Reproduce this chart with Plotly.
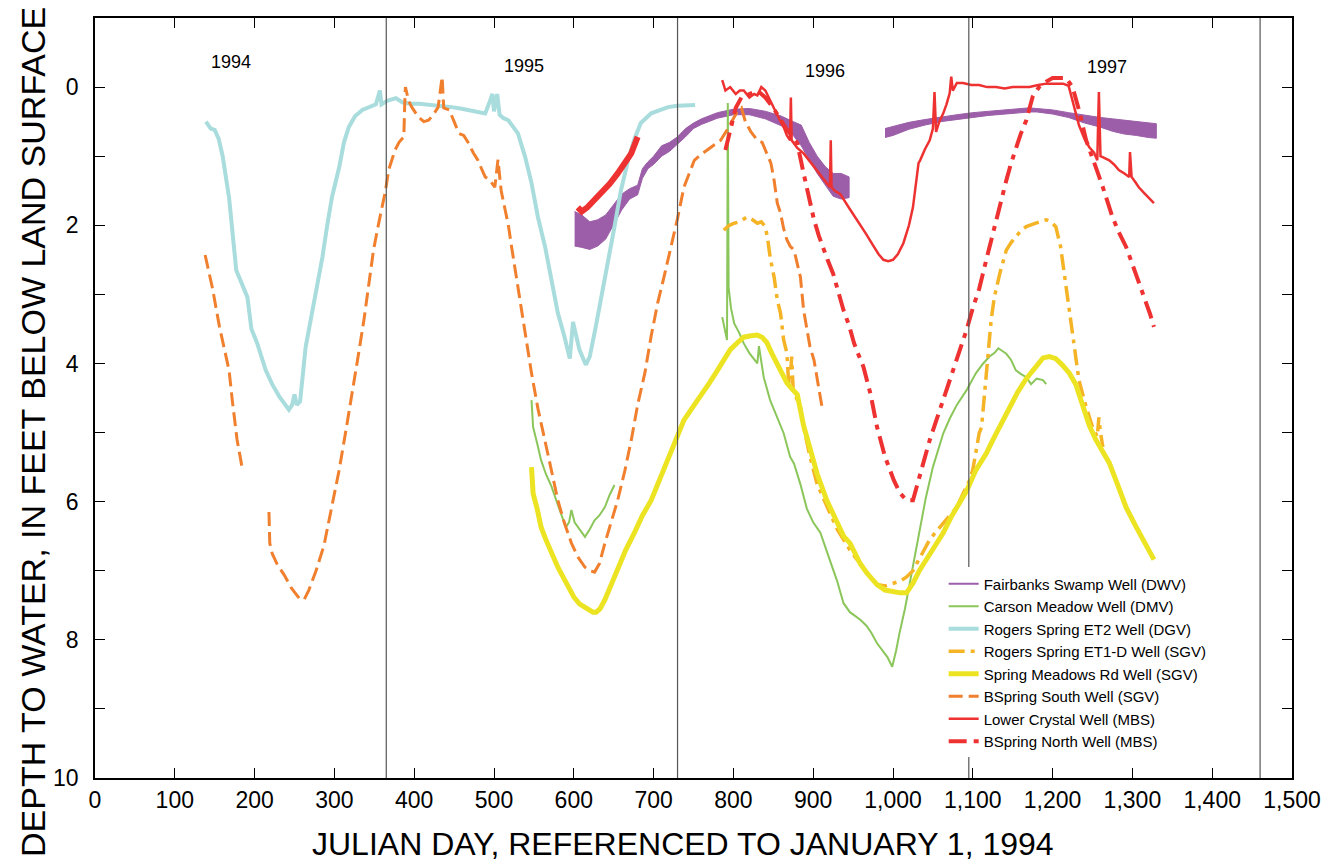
import plotly.graph_objects as go

# ---------------------------------------------------------------------------
# Depth to water (feet below land surface) versus Julian day, referenced to
# January 1, 1994.  None separates gaps in a record.
# ---------------------------------------------------------------------------

# Fairbanks Swamp Well (DWV): strong daily fluctuation, kept as an upper/lower envelope
fairbanks_days_1 = [601, 610, 620, 630, 640, 650, 660, 670, 680, 686, 693, 700, 710, 720, 730,
                    740, 750, 760, 780, 800, 820, 840, 860, 875, 885, 895, 905, 915, 925, 935, 945]
fairbanks_top_1 = [1.80, 1.85, 1.95, 1.92, 1.85, 1.70, 1.55, 1.47, 1.42, 1.18, 1.08, 1.00, 0.85, 0.80, 0.72,
                   0.60, 0.52, 0.46, 0.37, 0.32, 0.31, 0.35, 0.42, 0.50, 0.55, 0.80, 1.00, 1.15, 1.25, 1.25, 1.30]
fairbanks_bot_1 = [2.30, 2.32, 2.35, 2.30, 2.20, 2.00, 1.78, 1.62, 1.56, 1.32, 1.18, 1.12, 1.00, 0.93, 0.83,
                   0.72, 0.60, 0.54, 0.45, 0.40, 0.40, 0.46, 0.56, 0.70, 0.85, 1.05, 1.25, 1.42, 1.58, 1.62, 1.60]
fairbanks_days_2 = [990, 1000, 1020, 1040, 1060, 1080, 1100, 1120, 1140, 1160, 1171, 1180, 1200, 1220,
                    1240, 1260, 1275, 1290, 1305, 1320, 1330]
fairbanks_top_2 = [0.60, 0.57, 0.51, 0.47, 0.43, 0.40, 0.37, 0.35, 0.33, 0.31, 0.30, 0.31, 0.33, 0.37,
                   0.41, 0.44, 0.46, 0.48, 0.50, 0.52, 0.53]
fairbanks_bot_2 = [0.73, 0.70, 0.61, 0.55, 0.50, 0.47, 0.44, 0.41, 0.39, 0.37, 0.36, 0.36, 0.39, 0.44,
                   0.52, 0.58, 0.64, 0.68, 0.70, 0.73, 0.74]

# Carson Meadow Well (DMV)
carson_days = [547, 549, 554, 559, 565, 572, 578, 584, 590, 594, 597, 601, 605, 610, 614, 620, 626, 632,
               639, 645, 651, None,
               786, 789, 792, 793, 794, 797, 801, 807, 813, 820, 826, 830, 832, 838, 846, 855, 863, 871,
               876, 884, 892, 900, 909, 915, 921, 930, 938, 946, 952, 959, 967, 973, 980, 987, 993, 999,
               1004, 1008, 1015, 1021, 1027, 1033, 1041, 1050, 1057, 1063, 1071, 1080, 1092, 1104, 1113,
               1121, 1127, 1132, 1137, 1142, 1148, 1154, 1160, 1167, 1173, 1180, 1188, 1192]
carson_depth = [4.53, 4.92, 5.15, 5.40, 5.60, 5.78, 5.98, 6.17, 6.37, 6.30, 6.12, 6.30, 6.37, 6.45, 6.51,
                6.40, 6.27, 6.20, 6.08, 5.90, 5.76, None,
                3.33, 3.50, 3.66, 0.23, 2.90, 3.20, 3.42, 3.55, 3.71, 3.85, 3.95, 4.00, 3.75, 4.20, 4.53,
                4.78, 5.01, 5.35, 5.45, 5.75, 6.10, 6.30, 6.45, 6.65, 6.84, 7.15, 7.47, 7.60, 7.65, 7.71,
                7.80, 7.90, 8.05, 8.15, 8.25, 8.39, 8.15, 7.91, 7.55, 7.18, 6.80, 6.45, 5.95, 5.50, 5.25,
                5.01, 4.80, 4.60, 4.39, 4.14, 4.00, 3.90, 3.85, 3.78, 3.82, 3.86, 3.95, 4.10, 4.15, 4.20,
                4.30, 4.22, 4.24, 4.30]

# Rogers Spring ET2 Well (DGV)
et2_days = [139, 145, 150, 155, 160, 168, 177, 184, 191, 196, 203, 214, 222, 231, 238, 243, 247, 250,
            253, 257, 264, 272, 278, 285, 291, 297, 306, 312, 318, 326, 335, 345, 352, 357, 359, 366,
            377, 385, 395, 406, 416, 427, 437, 447, 458, 468, 478, 489, 495, 498, 500, 504, 507, 512,
            518, 524, 530, 539, 547, 555, 564, 572, 580, 588, 595, 599, 607, 615, 620, 627, 634, 642,
            651, 659, 668, 676, 684, 697, 709, 718, 730, 740, 752]
et2_depth = [0.50, 0.60, 0.62, 0.75, 1.00, 1.60, 2.65, 2.85, 3.04, 3.50, 3.70, 4.10, 4.30, 4.48, 4.60,
             4.67, 4.60, 4.45, 4.60, 4.55, 3.76, 3.27, 2.90, 2.46, 2.00, 1.59, 1.16, 0.80, 0.58, 0.42,
             0.33, 0.28, 0.25, 0.05, 0.25, 0.20, 0.16, 0.22, 0.24, 0.24, 0.25, 0.26, 0.27, 0.29, 0.31,
             0.33, 0.36, 0.38, 0.20, 0.10, 0.35, 0.10, 0.40, 0.45, 0.48, 0.58, 0.67, 1.01, 1.39, 1.88,
             2.31, 2.79, 3.27, 3.60, 3.93, 3.40, 3.80, 4.02, 3.90, 3.50, 3.08, 2.60, 2.02, 1.50, 1.06,
             0.75, 0.52, 0.38, 0.33, 0.29, 0.27, 0.27, 0.26]

# Rogers Spring ET1-D Well (SGV)
et1d_days = [788, 795, 801, 808, 817, 824, 830, 835, 840, 843, 846, 851, 855, 859, 863, 867, 869, 871,
             873, 875, 879, 884, 888, 896, 905, 913, 921, 930, 938, 946, 955, 963, 972, 980, 990, 1001,
             1009, 1017, 1025, 1030, 1038, 1046, 1055, 1063, 1071, 1080, 1088, 1096, 1100, 1104, 1108,
             1111, 1115, 1119, 1123, 1127, 1134, 1142, 1148, 1154, 1160, 1167, 1173, 1179, 1186, 1192,
             1198, 1204, 1210, 1214, 1218, 1221, 1227, 1233, 1242, 1250, 1256, 1258, 1260, 1263]
et1d_depth = [2.07, 2.00, 1.97, 1.95, 1.88, 1.92, 1.97, 1.95, 2.02, 2.20, 2.46, 2.75, 3.08, 3.27, 3.66,
              3.85, 4.24, 4.30, 3.90, 4.40, 4.50, 4.63, 4.92, 5.35, 5.75, 5.95, 6.17, 6.40, 6.55, 6.70,
              6.84, 6.95, 7.10, 7.20, 7.22, 7.18, 7.15, 7.09, 7.00, 6.89, 6.72, 6.55, 6.42, 6.31, 6.20,
              6.08, 5.88, 5.69, 5.54, 5.30, 5.01, 4.92, 4.43, 3.95, 3.37, 3.04, 2.69, 2.36, 2.25, 2.17,
              2.08, 2.02, 1.99, 1.97, 1.94, 1.92, 1.95, 2.02, 2.31, 2.65, 2.90, 3.18, 3.76, 4.24, 4.63,
              4.92, 5.06, 4.78, 5.00, 5.21]

# Spring Meadows Rd Well (SGV)
meadows_days = [547, 549, 554, 559, 565, 572, 580, 587, 593, 600, 607, 614, 620, 624, 628, 633, 639, 647,
                655, 665, 676, 686, 697, 707, 718, 728, 738, 748, 759, 770, 780, 788, 796, 805, 813, 822,
                830, 836, 842, 848, 855, 861, 867, 872, 876, 880, 888, 896, 905, 917, 926, 938, 946, 959,
                967, 980, 990, 1001, 1009, 1017, 1025, 1033, 1042, 1052, 1063, 1073, 1083, 1092, 1104,
                1117, 1125, 1134, 1146, 1156, 1167, 1178, 1188, 1196, 1204, 1212, 1221, 1229, 1237, 1246,
                1254, 1263, 1271, 1283, 1292, 1304, 1313, 1320, 1327]
meadows_depth = [5.50, 5.88, 6.10, 6.37, 6.55, 6.74, 6.95, 7.10, 7.24, 7.38, 7.48, 7.53, 7.58, 7.60, 7.60,
                 7.55, 7.42, 7.20, 6.95, 6.70, 6.45, 6.20, 5.98, 5.70, 5.40, 5.11, 4.82, 4.65, 4.48, 4.28,
                 4.10, 3.95, 3.80, 3.70, 3.62, 3.60, 3.59, 3.62, 3.70, 3.85, 4.02, 4.15, 4.28, 4.35, 4.39,
                 4.45, 4.90, 5.25, 5.60, 5.98, 6.22, 6.50, 6.60, 6.90, 7.03, 7.20, 7.28, 7.31, 7.32, 7.32,
                 7.18, 7.00, 6.84, 6.65, 6.45, 6.22, 6.02, 5.85, 5.54, 5.30, 5.11, 4.90, 4.63, 4.42, 4.22,
                 4.05, 3.92, 3.90, 3.93, 4.02, 4.14, 4.30, 4.60, 4.90, 5.10, 5.30, 5.44, 5.80, 6.08, 6.35,
                 6.55, 6.70, 6.84]

# BSpring South Well (SGV)
bsouth_days = [138, 147, 156, 164, 168, 172, 178, 185, None,
               218, 219, 222, 228, 237, 246, 256, 262, 268, 277, 287, 296, 306, 314, 321, 329, 337, 343,
               349, 355, 360, 364, 368, 372, 376, 381, 387, 388, 389, 393, 397, 405, 412, 418, 424, 430,
               433, 435, 437, 444, 450, 456, 462, 468, 474, 480, 485, 489, 495, 501, 505, 509, 514, 518,
               522, 526, 530, 537, 547, 555, 564, 572, 580, 588, 597, 605, 614, 620, 626, 632, 639, 647,
               655, 664, 672, 680, 689, 697, 705, 713, 721, 730, 738, 745, 751, 759, 767, 775, 784, 792,
               798, 805, 810, 815, 822, 830, 836, 842, 847, 851, 855, 859, 863, 867, 871, 876, 880, 884,
               888, 896, 901, 906, 911]
bsouth_depth = [2.43, 2.90, 3.47, 3.90, 4.10, 4.53, 5.10, 5.55, None,
                6.15, 6.60, 6.75, 6.90, 7.06, 7.25, 7.40, 7.42, 7.28, 7.00, 6.63, 6.10, 5.54, 5.00, 4.53,
                3.95, 3.37, 2.85, 2.36, 2.00, 1.74, 1.50, 1.20, 1.05, 0.91, 0.80, 0.72, 0.30, 0.00, 0.20,
                0.29, 0.43, 0.50, 0.48, 0.40, 0.29, 0.00, -0.15, 0.30, 0.33, 0.50, 0.67, 0.70, 0.81, 0.95,
                1.06, 1.20, 1.30, 1.35, 1.45, 1.05, 1.50, 1.78, 2.00, 2.31, 2.60, 2.89, 3.37, 4.14, 4.65,
                5.15, 5.55, 5.98, 6.30, 6.60, 6.80, 6.95, 7.00, 7.02, 6.90, 6.60, 6.30, 5.98, 5.55, 5.11,
                4.60, 4.14, 3.60, 3.13, 2.75, 2.35, 1.90, 1.45, 1.25, 1.06, 0.98, 0.91, 0.85, 0.77, 0.62,
                0.50, 0.35, 0.30, 0.50, 0.65, 0.77, 0.80, 0.96, 1.10, 1.35, 1.68, 1.82, 2.05, 2.21, 2.30,
                2.36, 2.55, 2.75, 3.23, 3.76, 3.95, 4.30, 4.63]

# Lower Crystal Well (MBS); the 1995 record fluctuates strongly and is drawn heavier
crystal_days_1 = [605, 610, 617, 625, 634, 645, 655, 664, 672, 680]
crystal_depth_1 = [1.74, 1.80, 1.74, 1.65, 1.53, 1.40, 1.25, 1.10, 0.96, 0.72]
crystal_days_2 = [786, 790, 796, 803, 808, 813, 820, 826, 830, 835, 840, 846, 851, 857, 863, 867, 871, 872,
                  873, 880, 888, 896, 905, 913, 921, 922, 923, 927, 934, 945, 955, 966, 976, 982, 988, 994,
                  1000, 1006, 1013, 1020, 1025, 1030, 1032, 1034, 1040, 1046, 1050, 1052, 1054, 1058, 1063,
                  1067, 1071, 1073, 1075, 1080, 1088, 1098, 1108, 1118, 1129, 1140, 1150, 1160, 1171, 1182,
                  1192, 1202, 1213, 1220, 1225, 1229, 1233, 1240, 1246, 1252, 1256, 1258, 1260, 1264, 1271,
                  1277, 1283, 1290, 1296, 1297, 1299, 1304, 1308, 1316, 1327]
crystal_depth_2 = [-0.10, 0.05, 0.00, 0.10, 0.05, 0.05, 0.15, 0.10, 0.12, 0.00, 0.05, 0.20, 0.30, 0.45,
                   0.58, 0.70, 0.77, 0.15, 0.77, 0.88, 0.96, 1.08, 1.20, 1.32, 1.45, 0.77, 1.45, 1.50, 1.55,
                   1.75, 1.92, 2.12, 2.31, 2.42, 2.50, 2.52, 2.50, 2.42, 2.26, 2.00, 1.74, 1.30, 1.10, 1.06,
                   0.90, 0.77, 0.60, 0.07, 0.65, 0.50, 0.38, 0.25, 0.09, -0.15, 0.05, -0.06, -0.06, -0.03,
                   -0.03, 0.00, 0.00, 0.02, 0.00, 0.00, 0.00, -0.03, -0.05, -0.05, -0.05, -0.02, 0.20, 0.40,
                   0.55, 0.75, 0.87, 0.95, 1.06, 0.07, 1.00, 1.02, 1.06, 1.12, 1.20, 1.25, 1.30, 0.94, 1.30,
                   1.38, 1.45, 1.55, 1.68]

# BSpring North Well (MBS)
bnorth_days = [790, 796, 803, 810, 820, 830, 840, 850, 858, 866, 873, 880, 888, 895, 901, 907, 913, 918,
               925, 932, 938, 945, 951, 957, 963, 972, 980, 990, 1001, 1009, 1017, 1025, 1033, 1040, 1046,
               1055, 1063, 1071, 1080, 1092, 1100, 1108, 1118, 1129, 1136, 1142, 1148, 1154, 1160, 1167,
               1175, 1183, 1192, 1200, 1208, 1217, 1225, 1233, 1242, 1250, 1256, 1263, 1269, 1275, 1283,
               1292, 1298, 1304, 1310, 1317, 1322, 1327]
bnorth_depth = [0.91, 0.62, 0.30, 0.15, 0.10, 0.05, 0.15, 0.30, 0.45, 0.60, 0.70, 0.81, 1.25, 1.60, 1.92,
                2.15, 2.36, 2.50, 2.70, 2.98, 3.23, 3.45, 3.70, 3.88, 4.05, 4.45, 4.92, 5.35, 5.69, 5.88,
                5.98, 5.98, 5.64, 5.35, 5.11, 4.80, 4.53, 4.25, 3.95, 3.52, 3.20, 2.92, 2.45, 1.92, 1.62,
                1.35, 1.10, 0.87, 0.68, 0.48, 0.14, 0.00, -0.08, -0.13, -0.13, -0.13, 0.00, 0.33, 0.77,
                1.01, 1.22, 1.45, 1.66, 1.88, 2.10, 2.31, 2.50, 2.69, 2.88, 3.08, 3.28, 3.47]

# Year boundaries and year labels
year_starts = [365, 730, 1095, 1460]
year_labels = ["1994", "1995", "1996", "1997"]
year_label_days = [170, 538, 915, 1268]
year_label_depths = [-0.36, -0.30, -0.23, -0.29]

# Axis ticks
x_ticks = list(range(0, 1501, 100))
y_ticks = list(range(0, 11))
y_tick_text = [str(v) if v % 2 == 0 else "" for v in y_ticks]

# ---------------------------------------------------------------------------
PURPLE = "#9c5ea8"
GREEN = "#8bc65a"
CYAN = "#a9dcdc"
GOLD = "#f5b326"
YELLOW = "#ece423"
ORANGE = "#f07f2e"
RED = "#ee3131"
FONT = "Liberation Sans, Arial, Helvetica, sans-serif"


def envelope(days, top, bot):
    """Closed polygon (upper edge forward, lower edge back) for a fill."""
    return days + days[::-1], top + bot[::-1]


fx1, fy1 = envelope(fairbanks_days_1, fairbanks_top_1, fairbanks_bot_1)
fx2, fy2 = envelope(fairbanks_days_2, fairbanks_top_2, fairbanks_bot_2)

fig = go.Figure()

fig.add_trace(go.Scatter(
    x=fx1 + [None] + fx2, y=fy1 + [None] + fy2, mode="lines", fill="toself",
    fillcolor=PURPLE, line=dict(color=PURPLE, width=1),
    showlegend=False, hoverinfo="skip"))
fig.add_trace(go.Scatter(
    x=[None], y=[None], mode="lines", name="Fairbanks Swamp Well (DWV)",
    line=dict(color=PURPLE, width=2)))

fig.add_trace(go.Scatter(
    x=carson_days, y=carson_depth, mode="lines", name="Carson Meadow Well (DMV)",
    line=dict(color=GREEN, width=2)))

fig.add_trace(go.Scatter(
    x=et2_days, y=et2_depth, mode="lines", name="Rogers Spring ET2 Well (DGV)",
    line=dict(color=CYAN, width=4)))

fig.add_trace(go.Scatter(
    x=et1d_days, y=et1d_depth, mode="lines", name="Rogers Spring ET1-D Well (SGV)",
    line=dict(color=GOLD, width=3.5, dash="16px,6px,4px,6px")))

fig.add_trace(go.Scatter(
    x=meadows_days, y=meadows_depth, mode="lines", name="Spring Meadows Rd Well (SGV)",
    line=dict(color=YELLOW, width=5)))

fig.add_trace(go.Scatter(
    x=bsouth_days, y=bsouth_depth, mode="lines", name="BSpring South Well (SGV)",
    line=dict(color=ORANGE, width=3, dash="14px,6px")))

fig.add_trace(go.Scatter(
    x=crystal_days_1, y=crystal_depth_1, mode="lines",
    line=dict(color=RED, width=6), showlegend=False))
fig.add_trace(go.Scatter(
    x=crystal_days_2, y=crystal_depth_2, mode="lines",
    name="Lower Crystal Well (MBS)", line=dict(color=RED, width=2.5)))

fig.add_trace(go.Scatter(
    x=bnorth_days, y=bnorth_depth, mode="lines", name="BSpring North Well (MBS)",
    line=dict(color=RED, width=4, dash="18px,7px,5px,7px")))

# Year boundary lines
for d in year_starts:
    fig.add_shape(type="line", xref="x", yref="paper", x0=d, x1=d, y0=0, y1=1,
                  line=dict(color="#555555", width=1.2), layer="above")

# Year labels
for lab, d, v in zip(year_labels, year_label_days, year_label_depths):
    fig.add_annotation(x=d, y=v, xref="x", yref="y", text=lab, showarrow=False,
                       font=dict(size=18, family=FONT, color="black"))

# Axis titles
fig.add_annotation(x=0.491, y=-0.087, xref="paper", yref="paper",
                   text="JULIAN DAY, REFERENCED TO JANUARY 1, 1994", showarrow=False,
                   xanchor="center", yanchor="middle",
                   font=dict(size=32, family=FONT, color="black"))
fig.add_annotation(x=-0.052, y=0.455, xref="paper", yref="paper",
                   text="DEPTH TO WATER, IN FEET BELOW LAND SURFACE", showarrow=False,
                   textangle=-90, xanchor="center", yanchor="middle",
                   font=dict(size=34, family=FONT, color="black"))

fig.update_xaxes(
    range=[0, 1500], tickvals=x_ticks, tickformat=",d",
    ticks="inside", ticklen=10, tickwidth=1.2, tickcolor="black",
    showline=True, linecolor="black", linewidth=1.5, mirror="ticks",
    showgrid=False, zeroline=False, ticklabelstandoff=1,
    tickfont=dict(size=23, family=FONT, color="black"))
fig.update_yaxes(
    range=[10, -1], tickvals=y_ticks, ticktext=y_tick_text,
    ticks="inside", ticklen=10, tickwidth=1.2, tickcolor="black",
    showline=True, linecolor="black", linewidth=1.5, mirror="ticks",
    showgrid=False, zeroline=False, ticklabelstandoff=10,
    tickfont=dict(size=23, family=FONT, color="black"))

fig.update_layout(
    width=1333, height=868,
    margin=dict(l=95, r=36, t=18, b=90, pad=0),
    paper_bgcolor="white", plot_bgcolor="white",
    font=dict(family=FONT, color="black"),
    legend=dict(x=0.709, y=0.277, xanchor="left", yanchor="top",
                traceorder="normal", tracegroupgap=0,
                bgcolor="white", borderwidth=0,
                font=dict(size=15, family=FONT, color="black")),
)

fig.write_html("out.html")
